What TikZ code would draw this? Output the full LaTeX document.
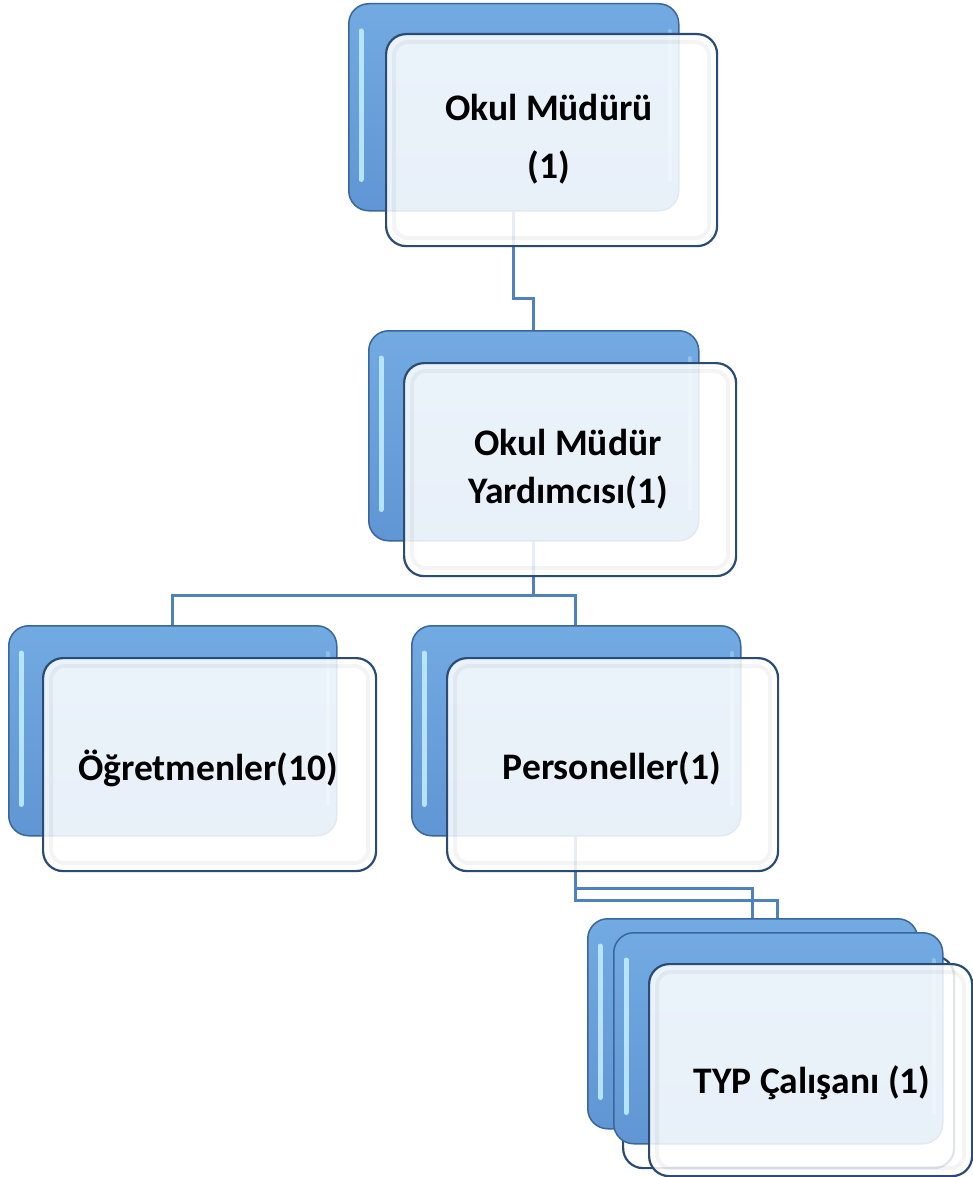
\documentclass[tikz,border=0pt]{standalone}
\usepackage{fontspec}
\setmainfont{Carlito}
\definecolor{conncol}{RGB}{79,129,189}
\definecolor{bluetop}{RGB}{114,170,226}
\definecolor{bluebot}{RGB}{96,150,211}
\definecolor{blueedge}{RGB}{58,102,156}
\definecolor{glosscol}{RGB}{196,240,255}
\definecolor{whiteedge}{RGB}{42,76,116}
\begin{document}
\begin{tikzpicture}[x=1pt,y=-1pt,
  conn/.style={draw=conncol, line width=3pt},
  bluebox/.style={rounded corners=20pt, draw=blueedge, line width=1.5pt,
    top color=bluetop, bottom color=bluebot, anchor=north west, inner sep=0pt},
  gloss/.style={line width=5pt, line cap=round, draw=glosscol, opacity=0.85},
  glossr/.style={line width=4pt, line cap=round, draw=glosscol, opacity=0.35},
  whitebox/.style={rounded corners=20pt, draw=whiteedge, line width=2.2pt,
    fill=white, fill opacity=0.86, anchor=north west, inner sep=0pt},
  bevel/.style={rounded corners=14pt, draw=black, draw opacity=0.045, line width=4pt},
  lbl/.style={align=center, text=black, font=\bfseries\fontsize{37.5}{58}\selectfont}
]
\useasboundingbox (0,0) rectangle (973,1177);

% centres of the back boxes, used as connector ends
\coordinate (c1) at (513,106);
\coordinate (c2) at (533,435);
\coordinate (c3) at (172,730);
\coordinate (c4) at (575.5,730);
\coordinate (c5) at (752,1022);
\coordinate (c6) at (777.5,1037);

% connectors
\draw[conn] (c1) -- (c1 |- 0,298) -- (c2 |- 0,298) -- (c2);
\draw[conn] (c2) -- (c2 |- 0,595) -- (c3 |- 0,595) -- (c3);
\draw[conn] (c2 |- 0,595) -- (c4 |- 0,595) -- (c4);
\draw[conn] (c4) -- (c4 |- 0,888) -- (c5 |- 0,888) -- (c5);
\draw[conn] (c4) -- (c4 |- 0,900) -- (c6 |- 0,900) -- (c6);

% ---- Okul Müdürü
\node[bluebox, minimum width=330pt, minimum height=207pt] (b1) at (348,3) {};
\draw[gloss] ([xshift=13pt,yshift=-28pt]b1.north west) -- ([xshift=13pt,yshift=32pt]b1.south west);
\draw[glossr] ([xshift=-10pt,yshift=-28pt]b1.north east) -- ([xshift=-10pt,yshift=32pt]b1.south east);
\node[whitebox, minimum width=331pt, minimum height=212pt] (w1) at (385,33) {};
\draw[bevel] ([shift={(9pt,-9pt)}]w1.north west) rectangle ([shift={(-9pt,9pt)}]w1.south east);
\node[lbl] (t1) at (549,139) {Okul Müdürü\\(1)};

% ---- Okul Müdür Yardımcısı
\node[bluebox, minimum width=330pt, minimum height=210pt] (b2) at (368,330) {};
\draw[gloss] ([xshift=13pt,yshift=-28pt]b2.north west) -- ([xshift=13pt,yshift=32pt]b2.south west);
\draw[glossr] ([xshift=-10pt,yshift=-28pt]b2.north east) -- ([xshift=-10pt,yshift=32pt]b2.south east);
\node[whitebox, minimum width=332pt, minimum height=213pt] (w2) at (403,362) {};
\draw[bevel] ([shift={(9pt,-9pt)}]w2.north west) rectangle ([shift={(-9pt,9pt)}]w2.south east);
\node[lbl, font=\bfseries\fontsize{37.5}{48}\selectfont] (t2) at (568,469) {Okul Müdür\\Yardımcısı(1)};

% ---- Öğretmenler
\node[bluebox, minimum width=328pt, minimum height=210pt] (b3) at (8,625) {};
\draw[gloss] ([xshift=13pt,yshift=-28pt]b3.north west) -- ([xshift=13pt,yshift=32pt]b3.south west);
\draw[glossr] ([xshift=-10pt,yshift=-28pt]b3.north east) -- ([xshift=-10pt,yshift=32pt]b3.south east);
\node[whitebox, minimum width=333pt, minimum height=213pt] (w3) at (42,657) {};
\draw[bevel] ([shift={(9pt,-9pt)}]w3.north west) rectangle ([shift={(-9pt,9pt)}]w3.south east);
\node[lbl] (t3) at (208,768) {Öğretmenler(10)};

% ---- Personeller
\node[bluebox, minimum width=329pt, minimum height=210pt] (b4) at (411,625) {};
\draw[gloss] ([xshift=13pt,yshift=-28pt]b4.north west) -- ([xshift=13pt,yshift=32pt]b4.south west);
\draw[glossr] ([xshift=-10pt,yshift=-28pt]b4.north east) -- ([xshift=-10pt,yshift=32pt]b4.south east);
\node[whitebox, minimum width=331pt, minimum height=213pt] (w4) at (446,657) {};
\draw[bevel] ([shift={(9pt,-9pt)}]w4.north west) rectangle ([shift={(-9pt,9pt)}]w4.south east);
\node[lbl] (t4) at (612,768) {Personeller(1)};

% ---- TYP Çalışanı (stacked)
\node[bluebox, minimum width=330pt, minimum height=210pt] (b5) at (587,918) {};
\draw[gloss] ([xshift=13pt,yshift=-28pt]b5.north west) -- ([xshift=13pt,yshift=32pt]b5.south west);
\node[whitebox, minimum width=331pt, minimum height=212pt] (w5) at (622,955) {};
\node[bluebox, minimum width=329pt, minimum height=211pt] (b6) at (613,932) {};
\draw[gloss] ([xshift=13pt,yshift=-28pt]b6.north west) -- ([xshift=13pt,yshift=32pt]b6.south west);
\draw[glossr] ([xshift=-10pt,yshift=-28pt]b6.north east) -- ([xshift=-10pt,yshift=32pt]b6.south east);
\node[whitebox, minimum width=323pt, minimum height=212pt] (w6) at (648,963) {};
\draw[bevel] ([shift={(9pt,-9pt)}]w6.north west) rectangle ([shift={(-9pt,9pt)}]w6.south east);
\node[lbl] (t6) at (812,1083) {TYP Çalışanı (1)};
\end{tikzpicture}
\end{document}
